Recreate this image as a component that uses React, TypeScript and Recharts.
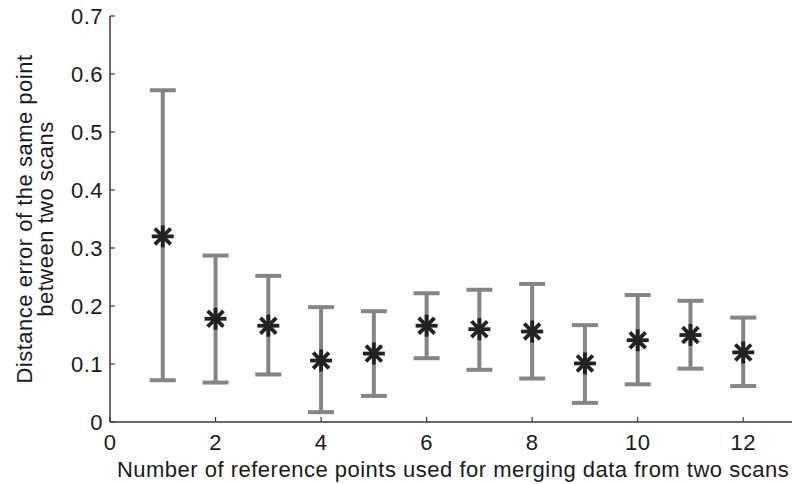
import { ComposedChart, Scatter, ErrorBar, XAxis, YAxis, Label } from 'recharts';

// number of reference points used when merging
const refPointCounts = [1, 2, 3, 4, 5, 6, 7, 8, 9, 10, 11, 12];
// mean distance error and the min/max whiskers
const meanError = [0.32, 0.178, 0.166, 0.106, 0.118, 0.166, 0.16, 0.156, 0.101, 0.141, 0.15, 0.12];
const lowError = [0.072, 0.068, 0.082, 0.017, 0.045, 0.11, 0.09, 0.075, 0.033, 0.065, 0.092, 0.062];
const highError = [0.572, 0.287, 0.252, 0.198, 0.191, 0.222, 0.228, 0.238, 0.167, 0.219, 0.209, 0.18];

const xTicks = [0, 2, 4, 6, 8, 10, 12];
const yTicks = [0, 0.1, 0.2, 0.3, 0.4, 0.5, 0.6, 0.7];

const data = refPointCounts.map((n, i) => ({
  n,
  mean: meanError[i],
  err: [meanError[i] - lowError[i], highError[i] - meanError[i]],
}));

const FONT = '"Liberation Sans", Arial, sans-serif';
const AXIS = '#3a3a3a';
const TEXT = '#1a1a1a';
const TICK_LEN = 5;
const TICK_FONT = 22;
const TITLE_FONT = 22;

const fmtY = (v: number) => (v === 0 ? '0' : v.toFixed(1));

function BottomTick({ x, y, payload }: any) {
  return (
    <g>
      <line x1={x} y1={y} x2={x} y2={y - TICK_LEN} stroke={AXIS} strokeWidth={1.2} />
      <text x={x} y={y + 28} textAnchor="middle" fontFamily={FONT} fontSize={TICK_FONT} letterSpacing={0.5} fill={TEXT}>
        {payload.value}
      </text>
    </g>
  );
}

function TopTick({ x, y }: any) {
  return <line x1={x} y1={y} x2={x} y2={y + TICK_LEN} stroke={AXIS} strokeWidth={1.2} />;
}

function LeftTick({ x, y, payload }: any) {
  return (
    <g>
      <line x1={x} y1={y} x2={x + TICK_LEN} y2={y} stroke={AXIS} strokeWidth={1.2} />
      <text x={x - 7} y={y + 8} textAnchor="end" fontFamily={FONT} fontSize={TICK_FONT} letterSpacing={0.5} fill={TEXT}>
        {fmtY(payload.value)}
      </text>
    </g>
  );
}

function RightTick({ x, y }: any) {
  return <line x1={x} y1={y} x2={x - TICK_LEN} y2={y} stroke={AXIS} strokeWidth={1.2} />;
}

// MATLAB-style '*' marker
function Asterisk({ cx, cy }: any) {
  const r = 11;
  const d = r * 0.72;
  const s = { stroke: '#222', strokeWidth: 3.8, strokeLinecap: 'butt' as const };
  return (
    <g>
      <line x1={cx - r} y1={cy} x2={cx + r} y2={cy} {...s} />
      <line x1={cx} y1={cy - r} x2={cx} y2={cy + r} {...s} />
      <line x1={cx - d} y1={cy - d} x2={cx + d} y2={cy + d} {...s} />
      <line x1={cx - d} y1={cy + d} x2={cx + d} y2={cy - d} {...s} />
    </g>
  );
}

function YTitle({ viewBox }: any) {
  const cy = viewBox.y + viewBox.height / 2;
  const bx = 32;
  return (
    <text
      transform={`rotate(-90, ${bx}, ${cy})`}
      x={bx}
      y={cy}
      textAnchor="middle"
      fontFamily={FONT}
      fontSize={TITLE_FONT}
      letterSpacing={0.5}
      fill={TEXT}
    >
      <tspan x={bx} dy={0}>Distance error of the same point</tspan>
      <tspan x={bx} dy={21}>between two scans</tspan>
    </text>
  );
}

export default function App() {
  return (
    <div style={{ position: 'absolute', left: 0, top: 0, width: 792, height: 484, overflow: 'hidden', background: '#fff' }}>
      <ComposedChart
        width={800}
        height={484}
        data={data}
        margin={{ top: 16, right: 4, bottom: 0, left: 0 }}
      >
        <XAxis
          dataKey="n"
          type="number"
          domain={[0, 13]}
          ticks={xTicks}
          allowDataOverflow
          height={62}
          tickSize={0}
          tickMargin={0}
          tickLine={false}
          axisLine={{ stroke: AXIS, strokeWidth: 1.5 }}
          tick={<BottomTick />}
        >
          <Label
            value="Number of reference points used for merging data from two scans"
            position="insideBottom"
            offset={7}
            style={{ fontFamily: FONT, fontSize: TITLE_FONT, letterSpacing: 0.5, fill: TEXT }}
          />
        </XAxis>
        <XAxis
          xAxisId="top"
          orientation="top"
          dataKey="n"
          type="number"
          domain={[0, 13]}
          ticks={xTicks}
          height={0}
          tickSize={0}
          tickMargin={0}
          tickLine={false}
          axisLine={{ stroke: AXIS, strokeWidth: 1.5 }}
          tick={<TopTick />}
        />
        <YAxis
          type="number"
          domain={[0, 0.7]}
          ticks={yTicks}
          width={110}
          tickSize={0}
          tickMargin={0}
          tickLine={false}
          axisLine={{ stroke: AXIS, strokeWidth: 1.5 }}
          tick={<LeftTick />}
        >
          <Label content={<YTitle />} />
        </YAxis>
        <YAxis
          yAxisId="right"
          orientation="right"
          type="number"
          domain={[0, 0.7]}
          ticks={yTicks}
          width={0}
          tickSize={0}
          tickMargin={0}
          tickLine={false}
          axisLine={{ stroke: AXIS, strokeWidth: 1.5 }}
          tick={<RightTick />}
        />
        <Scatter dataKey="mean" shape={<Asterisk />} isAnimationActive={false}>
          <ErrorBar dataKey="err" direction="y" width={13} strokeWidth={4} stroke="#858585" isAnimationActive={false} />
        </Scatter>
      </ComposedChart>
    </div>
  );
}
